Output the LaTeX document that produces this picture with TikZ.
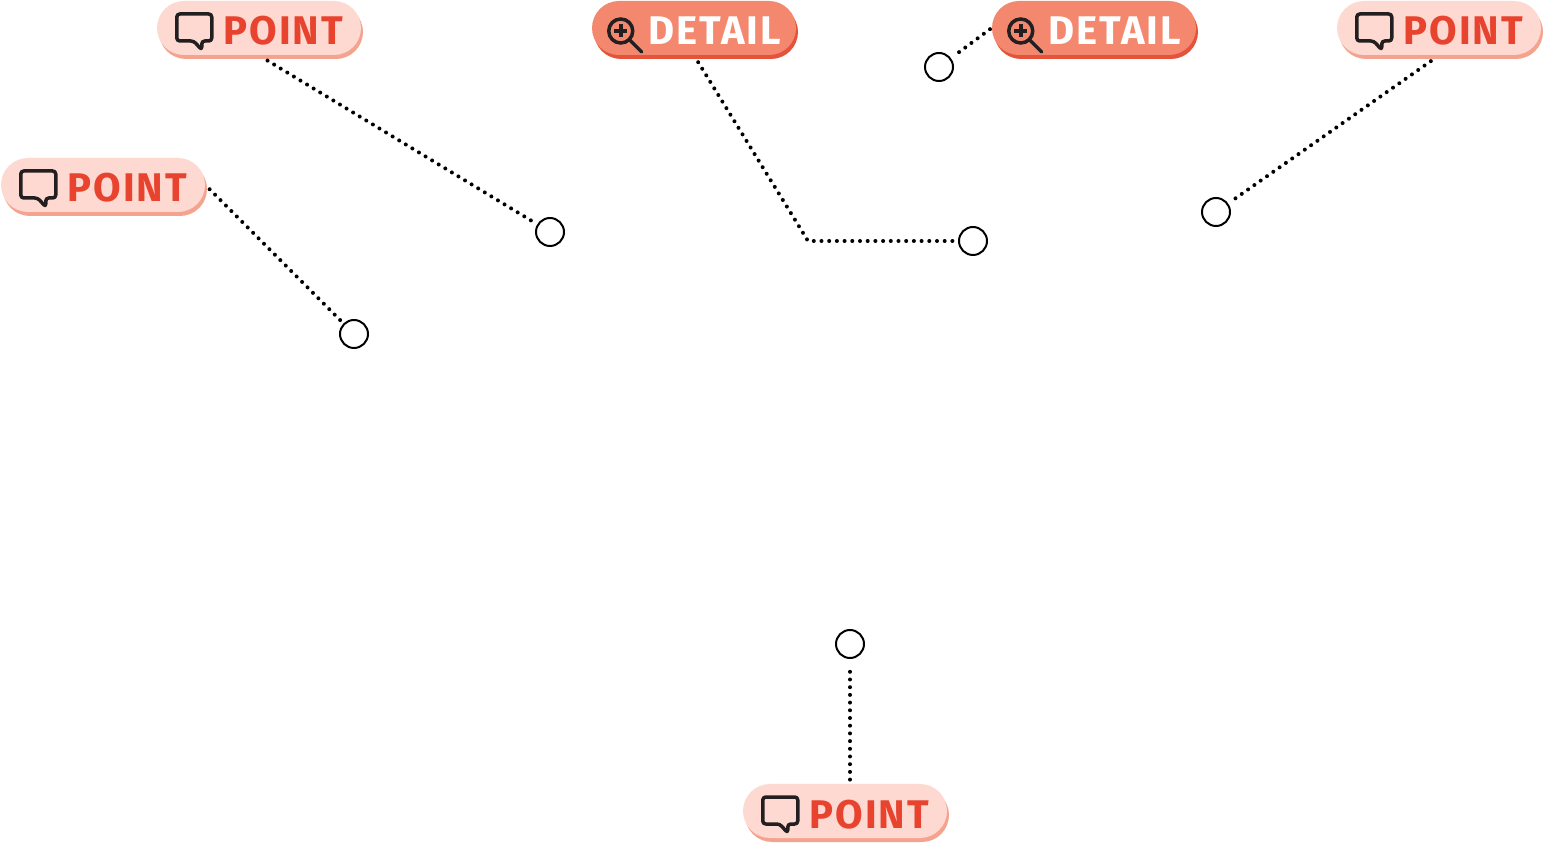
\documentclass[tikz,border=0pt]{standalone}
\usepackage{fontspec}
\newfontfamily\badgefont[LetterSpace=5]{Fira Sans}
\usepackage{tikz}
\usetikzlibrary{calc}
\usetikzlibrary{shadows}
\usetikzlibrary{positioning}
\definecolor{pointfill}{HTML}{FDD9D1}
\definecolor{pointshade}{HTML}{F4A38F}
\definecolor{pointred}{HTML}{E8432E}
\definecolor{detailfill}{HTML}{F3886F}
\definecolor{detailshade}{HTML}{E5533B}
\definecolor{iconblack}{HTML}{231F20}
\tikzset{>=latex}
\tikzstyle{badge} = [rectangle, rounded corners=13.5pt, minimum width=102pt, minimum height=27pt, inner sep=0pt, text height=17pt, text depth=0pt, font=\badgefont\bfseries\fontsize{20}{20}\selectfont]
\tikzstyle{point} = [badge, fill=pointfill, text=pointred, drop shadow={shadow xshift=1pt, shadow yshift=-2pt, fill=pointshade, opacity=1}]
\tikzstyle{detail} = [badge, fill=detailfill, text=white, drop shadow={shadow xshift=1pt, shadow yshift=-2pt, fill=detailshade, opacity=1}]
\tikzstyle{spot} = [circle, draw=black, fill=white, line width=1pt, minimum size=14pt, inner sep=0pt]
\tikzstyle{lead} = [-, line width=2pt, line cap=round, dash pattern=on 0pt off 3.85pt]
\newcommand{\speechicon}{\tikz[x=0.5pt, y=-0.5pt, baseline={(0,31)}, color=iconblack, line width=1.75pt, rounded corners=1.5pt, line join=round]{\draw (17,27) -- (0,27) -- (0,0) -- (35,0) -- (35,27) -- (25,27) -- (25,36) -- cycle;}\hspace{5pt}}
\newcommand{\glassicon}{\tikz[x=0.5pt, y=-0.5pt, baseline={(0,28)}, color=iconblack, line width=1.75pt, sharp corners]{\draw (14,14) circle [radius=12]; \draw [line width=2pt] (7.5,14) -- (20.5,14) (14,7.5) -- (14,20.5); \draw [line cap=round] (23,23) -- (35,35);}\hspace{2.5pt}}

\begin{document}
\begin{tikzpicture}[x=0.5pt, y=-0.5pt]
\useasboundingbox (0,0) rectangle (1544,844);
% badges
\node [point] (P1) at (259, 28) {\speechicon POINT};
\node [point] (P2) at (103, 185) {\speechicon POINT};
\node [detail] (D1) at (694, 28) {\glassicon DETAIL};
\node [detail] (D2) at (1094, 28) {\glassicon DETAIL};
\node [point] (P5) at (1439, 28) {\speechicon POINT};
\node [point] (P6) at (845, 811) {\speechicon POINT};
% spots
\node [spot] (S1) at (550, 232) {};
\node [spot] (S2) at (354, 334) {};
\node [spot] (S3) at (939, 67) {};
\node [spot] (S4) at (973, 241) {};
\node [spot] (S5) at (1216, 212) {};
\node [spot] (S6) at (850, 644) {};
\coordinate (E1) at (808, 241);
% leaders
\draw [lead, shorten <=5pt, shorten >=1.5pt] (P1.south) to (S1);
\draw [lead, shorten <=3pt, shorten >=1.5pt] (P2.east) to (S2);
\draw [lead, shorten <=4pt, shorten >=1.5pt] (D1.south) -- (E1) -- (S4);
\draw [lead, shorten <=1pt, shorten >=1.5pt] (D2.west) to (S3);
\draw [lead, shorten <=5pt, shorten >=1.5pt] (P5.south) to (S5);
\draw [lead, shorten <=2pt, shorten >=3pt] (S6 |- P6.north) to (S6);
\end{tikzpicture}
\end{document}
